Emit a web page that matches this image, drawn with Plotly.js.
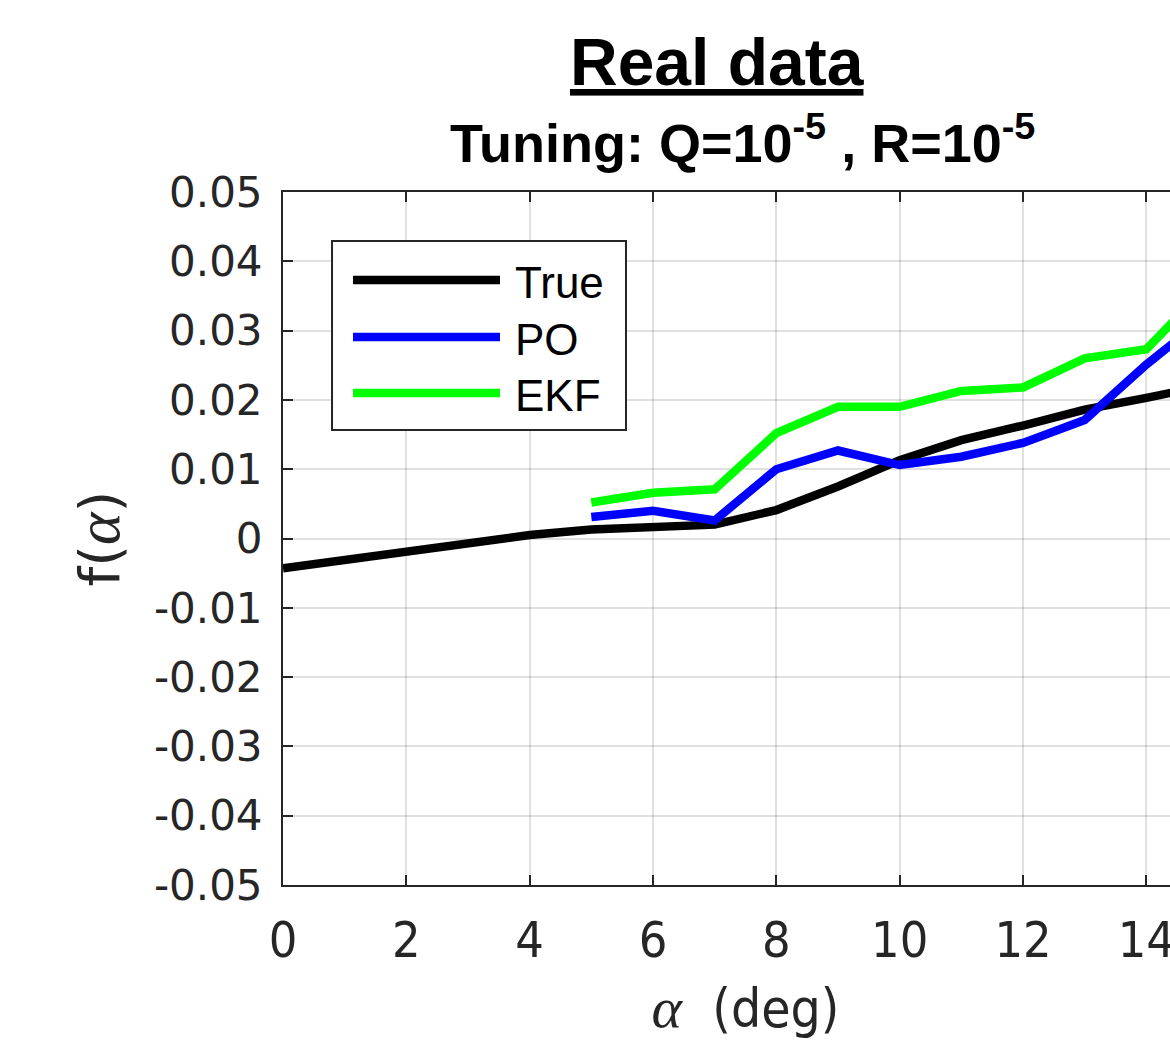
<!DOCTYPE html>
<html>
<head>
<meta charset="utf-8">
<script src="https://cdn.plot.ly/plotly-3.0.1.min.js"></script>
<style>
html,body{margin:0;padding:0;overflow:hidden;background:#fff;width:1170px;height:1042px;}
#chart{width:1300px;height:1042px;}
</style>
</head>
<body>
<div id="chart"></div>
<script>
// ---- data ----
var alphaTrue = [0,1,2,3,4,5,6,7,8,9,10,11,12,13,14,15];
var fTrue = [-0.0043,-0.0031,-0.0019,-0.0007,0.0005,0.0013,0.0018,0.0020,0.0041,0.0075,0.0113,0.0142,0.0163,0.0186,0.0203,0.0221];
var alphaEst = [5,6,7,8,9,10,11,12,13,14,15];
var fPO  = [0.0031,0.0040,0.0026,0.0100,0.0127,0.0106,0.0118,0.0138,0.0171,0.0251,0.0322];
var fEKF = [0.0052,0.0066,0.0071,0.0152,0.0190,0.0190,0.0213,0.0218,0.0260,0.0273,0.0365];
var seriesNames = ['True','PO','EKF'];
var seriesColors = ['#000000','#0000ff','#00ff00'];
var xTickVals = [0,2,4,6,8,10,12,14];
var xTickText = ['0','2','4','6','8','10','12','14'];
var yTickVals = [-0.05,-0.04,-0.03,-0.02,-0.01,0,0.01,0.02,0.03,0.04,0.05];
var yTickText = ['-0.05','-0.04','-0.03','-0.02','-0.01','0','0.01','0.02','0.03','0.04','0.05'];
var titleMain = 'Real data';
var titleSub = 'Tuning: Q=10<sup>-5</sup> , R=10<sup>-5</sup>';

var lw = 8.5;
var traces = [
  {x: alphaTrue, y: fTrue, name: seriesNames[0], mode: 'lines', line: {color: seriesColors[0], width: lw}},
  {x: alphaEst, y: fPO, name: seriesNames[1], mode: 'lines', line: {color: seriesColors[1], width: lw}},
  {x: alphaEst, y: fEKF, name: seriesNames[2], mode: 'lines', line: {color: seriesColors[2], width: lw}}
];

var axisColor = '#262626';
var gridColor = 'rgba(0,0,0,0.12)';

// manual legend (paper coordinates)
var legRows = [0.873, 0.7908, 0.710];
var shapes = [{type:'rect', xref:'paper', yref:'paper', x0:0.053, x1:0.3708, y0:0.6566, y1:0.9293,
  line:{color:axisColor, width:2}, fillcolor:'#ffffff', layer:'above'}];
var annotations = [];
for (var i = 0; i < seriesNames.length; i++) {
  shapes.push({type:'line', xref:'paper', yref:'paper', x0:0.0757, x1:0.2346, y0:legRows[i], y1:legRows[i],
    line:{color:seriesColors[i], width:lw}, layer:'above'});
  annotations.push({xref:'paper', yref:'paper', x:0.249, y:legRows[i] - 0.003, xanchor:'left', yanchor:'middle',
    text: seriesNames[i], showarrow:false, font:{family:'Liberation Sans, Arial, sans-serif', size:44, color:'#000'}});
}
annotations.push({xref:'paper', yref:'paper', x:0.4697, y:1.188, xanchor:'center', yanchor:'middle',
  text:'<b><u>' + titleMain + '</u></b>', showarrow:false,
  font:{family:'Liberation Sans, Arial, sans-serif', size:66, color:'#000'}});
annotations.push({xref:'paper', yref:'paper', x:0.497, y:1.076, xanchor:'center', yanchor:'middle',
  text:'<b>' + titleSub + '</b>', showarrow:false,
  font:{family:'Liberation Sans, Arial, sans-serif', size:54, color:'#000'}});

var layout = {
  width: 1300, height: 1042,
  margin: {l: 283, r: 92, t: 192, b: 157},
  paper_bgcolor: '#ffffff', plot_bgcolor: '#ffffff',
  showlegend: false,
  xaxis: {
    range: [0, 15], tickvals: xTickVals, ticktext: xTickText,
    showline: true, linecolor: axisColor, linewidth: 2, mirror: 'ticks',
    ticks: 'inside', ticklen: 10, tickwidth: 2, tickcolor: axisColor,
    showgrid: true, gridcolor: gridColor, gridwidth: 2, zeroline: false,
    tickfont: {family: 'DejaVu Sans Condensed, DejaVu Sans, sans-serif', size: 50, color: axisColor},
    ticklabelstandoff: 10,
    title: {text: '<span style="font-family:Liberation Serif;font-size:58px"><i>α</i></span>  (deg)', standoff: 22,
      font: {family: 'DejaVu Sans Condensed, DejaVu Sans, sans-serif', size: 53, color: axisColor}}
  },
  yaxis: {
    range: [-0.05, 0.05], tickvals: yTickVals, ticktext: yTickText,
    showline: true, linecolor: axisColor, linewidth: 2, mirror: 'ticks',
    ticks: 'inside', ticklen: 10, tickwidth: 2, tickcolor: axisColor,
    showgrid: true, gridcolor: gridColor, gridwidth: 2, zeroline: false,
    tickfont: {family: 'DejaVu Sans, sans-serif', size: 42, color: axisColor},
    ticklabelstandoff: 10,
    title: {text: 'f(<span style="font-family:Liberation Serif;font-size:62px"><i>α</i></span>)', standoff: 16,
      font: {family: 'DejaVu Sans, sans-serif', size: 56, color: axisColor}}
  },
  shapes: shapes,
  annotations: annotations
};

Plotly.newPlot('chart', traces, layout, {displayModeBar: false, staticPlot: true});
</script>
</body>
</html>
